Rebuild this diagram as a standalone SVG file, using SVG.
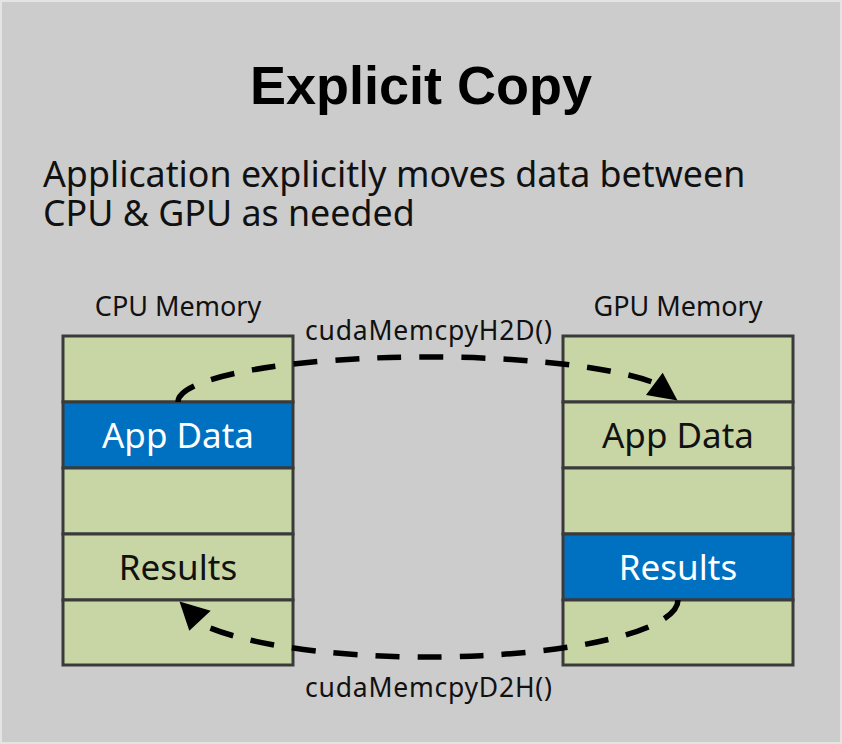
<svg xmlns="http://www.w3.org/2000/svg" width="842" height="744" viewBox="0 0 842 744">
  <style>
    .bg { fill: #cccccc; stroke: #e4e4e4; stroke-width: 2; }
    .title { font-family: "Liberation Sans", Arial, sans-serif; font-weight: bold; font-size: 54px; fill: #000; }
    .sub { font-family: "Noto Sans", "Open Sans", sans-serif; font-size: 35.8px; fill: #111; }
    .head { font-family: "Noto Sans", "Open Sans", sans-serif; font-size: 27px; fill: #111; }
    .fn { font-family: "Noto Sans", "Open Sans", sans-serif; font-size: 26.5px; fill: #111; }
    .cell { fill: #c8d6a5; stroke: #3a3a3a; stroke-width: 3; }
    .cell.hi { fill: #0070c0; }
    .lbl { font-family: "Noto Sans", "Open Sans", sans-serif; font-size: 35px; fill: #111; text-anchor: middle; }
    .lbl.w { fill: #ffffff; }
    .flow { fill: none; stroke: #000; stroke-width: 5.5; stroke-dasharray: 24 18; }
    .head-arrow { fill: #000; }
  </style>

  <rect class="bg" x="1" y="1" width="840" height="742"/>

  <text class="title" x="421" y="104" text-anchor="middle">Explicit Copy</text>
  <text class="sub" x="43" y="187">Application explicitly moves data between</text>
  <text class="sub" x="43" y="226">CPU &amp; GPU as needed</text>

  <g id="cpu-memory">
    <text class="head" x="178" y="316" text-anchor="middle">CPU Memory</text>
    <g id="cpu-row1"><rect class="cell" x="63" y="336" width="230" height="66"/></g>
    <g id="cpu-appdata"><rect class="cell hi" x="63" y="402" width="230" height="66"/><text class="lbl w" x="178" y="447.5">App Data</text></g>
    <g id="cpu-row3"><rect class="cell" x="63" y="468" width="230" height="66"/></g>
    <g id="cpu-results"><rect class="cell" x="63" y="534" width="230" height="66"/><text class="lbl" x="178" y="579.5">Results</text></g>
    <g id="cpu-row5"><rect class="cell" x="63" y="600" width="230" height="65"/></g>
  </g>

  <g id="gpu-memory">
    <text class="head" x="678" y="316" text-anchor="middle">GPU Memory</text>
    <g id="gpu-row1"><rect class="cell" x="563" y="336" width="230" height="66"/></g>
    <g id="gpu-appdata"><rect class="cell" x="563" y="402" width="230" height="66"/><text class="lbl" x="678" y="447.5">App Data</text></g>
    <g id="gpu-row3"><rect class="cell" x="563" y="468" width="230" height="66"/></g>
    <g id="gpu-results"><rect class="cell hi" x="563" y="534" width="230" height="66"/><text class="lbl w" x="678" y="579.5">Results</text></g>
    <g id="gpu-row5"><rect class="cell" x="563" y="600" width="230" height="65"/></g>
  </g>

  <g id="connectors">
    <path class="flow" d="M178,402 A250,45 0 0 1 654,382.7"/>
    <polygon class="head-arrow" points="677.5,400.5 646,395 662.7,372.7"/>
    <text class="fn" x="305" y="340" textLength="247" lengthAdjust="spacing">cudaMemcpyH2D()</text>

    <path class="flow" d="M678,600 A250,57 0 0 1 201,623.9"/>
    <polygon class="head-arrow" points="179.5,601.5 189.3,630.7 210.7,610.7"/>
    <text class="fn" x="305" y="697" textLength="247" lengthAdjust="spacing">cudaMemcpyD2H()</text>
  </g>
</svg>
